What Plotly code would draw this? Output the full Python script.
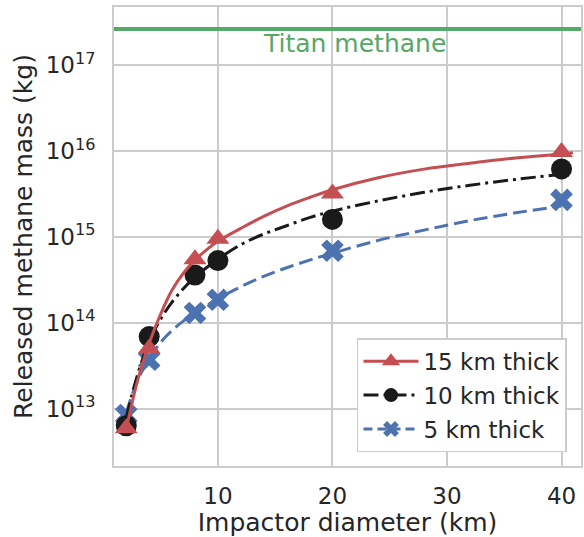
import math
import plotly.graph_objects as go

# ---- data ----
diam_km = [2, 4, 8, 10, 20, 40]
mass_15km = [5.9e12, 5.0e13, 5.5e14, 9.5e14, 3.2e15, 9.8e15]
mass_10km = [6.3e12, 6.9e13, 3.6e14, 5.3e14, 1.6e15, 6.2e15]
mass_5km = [8.4e12, 3.7e13, 1.3e14, 1.85e14, 6.9e14, 2.7e15]

# fitted curves (sampled along the drawn lines)
fit_x_15 = [2, 3, 4, 5, 6, 7, 8, 9, 10, 12, 14, 16, 18, 20, 24, 28, 32, 36, 40, 41]
fit_y_15 = [5.75e12, 2.14e13, 5.75e13, 1.26e14, 2.40e14, 3.80e14, 5.37e14, 7.08e14, 8.91e14,
            1.26e15, 1.74e15, 2.29e15, 2.88e15, 3.55e15, 4.90e15, 6.17e15, 7.24e15, 8.32e15,
            9.25e15, 9.55e15]
fit_x_10 = [2, 3, 4, 5, 6, 7, 8, 9, 10, 12, 14, 16, 18, 20, 24, 28, 32, 36, 40]
fit_y_10 = [7.94e12, 2.51e13, 6.03e13, 1.10e14, 1.74e14, 2.51e14, 3.39e14, 4.37e14, 5.50e14,
            8.13e14, 1.08e15, 1.35e15, 1.68e15, 2.00e15, 2.63e15, 3.31e15, 4.00e15, 4.68e15,
            5.37e15]
fit_x_5 = [2, 3, 4, 5, 6, 7, 8, 9, 10, 12, 14, 16, 18, 20, 24, 28, 32, 36, 40]
fit_y_5 = [8.91e12, 2.14e13, 3.80e13, 5.89e13, 8.13e13, 1.05e14, 1.29e14, 1.58e14, 1.91e14,
           2.63e14, 3.47e14, 4.37e14, 5.37e14, 6.46e14, 9.12e14, 1.20e15, 1.55e15, 1.91e15,
           2.29e15]

titan_methane = 2.66e17
titan_label = "Titan methane"
titan_label_x = 21.9
titan_label_y = 1.8e17

series_names = ["15 km thick", "10 km thick", "5 km thick"]
x_ticks = [10, 20, 30, 40]
y_tick_exps = [13, 14, 15, 16, 17]

# ---- styles ----
RED = "#c44e52"
BLK = "#1a1a1a"
BLU = "#4c72b0"
GRN = "#55a868"
TXT = "#262626"
GRID = "#cccccc"
FONT = "DejaVu Sans"
FS_TICK = 23
FS_LAB = 25
FS_LEG = 23

fig = go.Figure()

# blue (5 km)
fig.add_trace(go.Scatter(x=fit_x_5, y=fit_y_5, mode="lines", line_shape="spline",
                         line=dict(color=BLU, width=3, dash="14px,6px"), showlegend=False))
fig.add_trace(go.Scatter(x=diam_km, y=mass_5km, mode="markers",
                         marker=dict(symbol="x", size=20, color=BLU), showlegend=False))
# black (10 km)
fig.add_trace(go.Scatter(x=fit_x_10, y=fit_y_10, mode="lines", line_shape="spline",
                         line=dict(color=BLK, width=3, dash="15px,5px,3px,5px"), showlegend=False))
fig.add_trace(go.Scatter(x=diam_km, y=mass_10km, mode="markers",
                         marker=dict(symbol="circle", size=21, color=BLK), showlegend=False))
# red (15 km)
fig.add_trace(go.Scatter(x=fit_x_15, y=fit_y_15, mode="lines", line_shape="spline",
                         line=dict(color=RED, width=3), showlegend=False))
fig.add_trace(go.Scatter(x=diam_km, y=mass_15km, mode="markers",
                         marker=dict(symbol="triangle-up", size=20, color=RED), showlegend=False))

# legend entries
leg_styles = [
    (RED, "solid", "triangle-up", 17),
    (BLK, "15px,5px,3px,5px", "circle", 14),
    (BLU, "9px,5px", "x", 14),
]
for i, (name, (c, d, sym, ms)) in enumerate(zip(series_names, leg_styles)):
    fig.add_trace(go.Scatter(x=[None], y=[None], mode="lines+markers", name=name,
                             line=dict(color=c, width=3, dash=d),
                             marker=dict(symbol=sym, size=ms, color=c),
                             legendrank=i + 1, legendgroup="g%d" % i))

# Titan methane line
fig.add_hline(y=titan_methane, line=dict(color=GRN, width=4))
fig.add_annotation(x=titan_label_x, y=math.log10(titan_label_y), text=titan_label,
                   showarrow=False, font=dict(family=FONT, size=FS_LAB, color=GRN))

fig.update_layout(
    width=584, height=537,
    margin=dict(l=114, r=1, t=7, b=71),
    paper_bgcolor="white", plot_bgcolor="white",
    font=dict(family=FONT, size=FS_TICK, color=TXT),
    legend=dict(x=0.97, xanchor="right", y=0.03, yanchor="bottom",
                bgcolor="white", bordercolor=GRID, borderwidth=1.5,
                font=dict(family=FONT, size=FS_LEG, color=TXT),
                itemwidth=55, tracegroupgap=1),
)
fig.update_xaxes(range=[0.93, 41.7], tickvals=x_ticks, ticktext=[str(t) for t in x_ticks],
                 tickfont=dict(family=FONT, size=FS_TICK, color=TXT),
                 showgrid=True, gridcolor=GRID, gridwidth=1.5,
                 showline=True, mirror=True, linecolor=GRID, linewidth=2,
                 ticks="outside", ticklen=8, tickcolor="rgba(0,0,0,0)",
                 zeroline=False,
                 title=dict(text="Impactor diameter (km)", standoff=2,
                            font=dict(family=FONT, size=FS_LAB, color=TXT)))
fig.update_yaxes(type="log", range=[12.33, 17.68],
                 tickvals=[10 ** e for e in y_tick_exps],
                 ticktext=["10<sup>%d</sup>" % e for e in y_tick_exps],
                 tickfont=dict(family=FONT, size=FS_TICK, color=TXT),
                 showgrid=True, gridcolor=GRID, gridwidth=1.5,
                 showline=True, mirror=True, linecolor=GRID, linewidth=2,
                 ticks="outside", ticklen=12, tickcolor="rgba(0,0,0,0)",
                 zeroline=False,
                 title=dict(text="Released methane mass (kg)", standoff=6,
                            font=dict(family=FONT, size=FS_LAB, color=TXT)))

fig.write_html("out.html", config={"displayModeBar": False},
               post_script="document.body.style.margin='0';")
